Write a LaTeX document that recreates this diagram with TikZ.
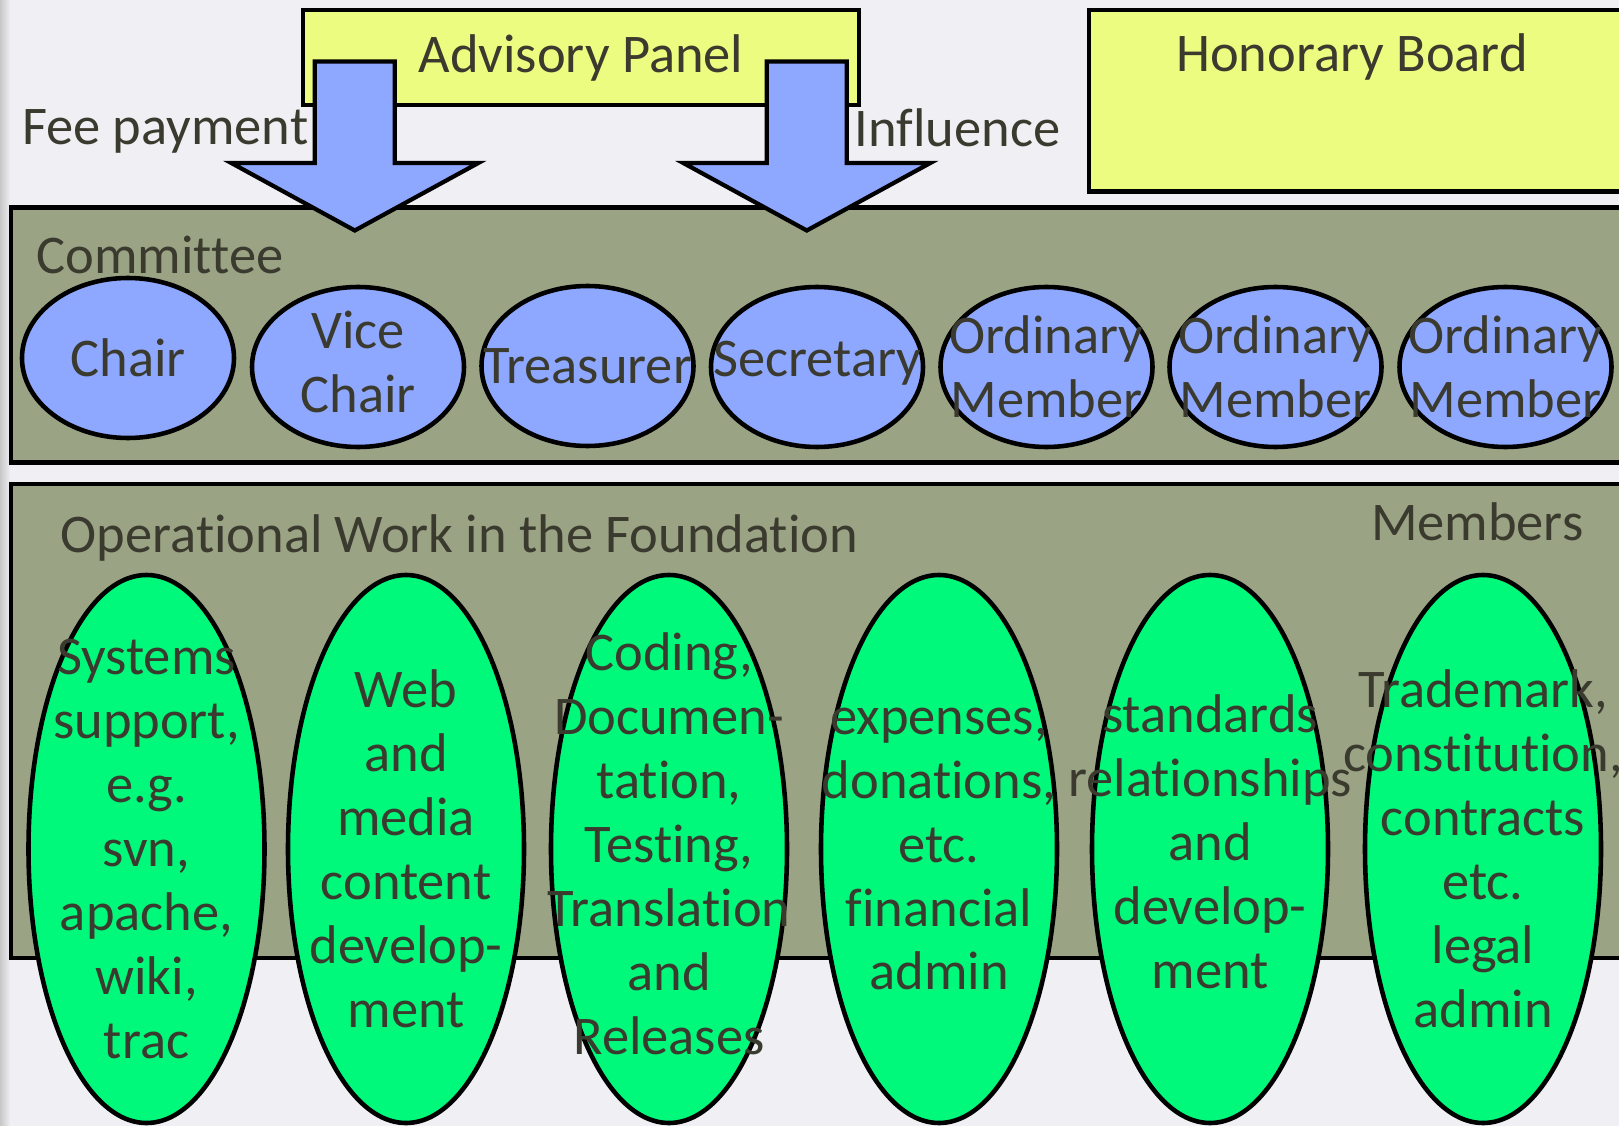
\documentclass[tikz,border=0pt]{standalone}
\usepackage{fontspec}
\setmainfont{Carlito}[RawFeature={-liga;-clig;-calt;-dlig}]
\usepackage{tikz}
\usetikzlibrary{shapes,arrows,positioning,calc}

\definecolor{paper}{HTML}{EFEFF4}
\definecolor{olive}{HTML}{9AA383}
\definecolor{lemon}{HTML}{ECFC80}
\definecolor{cornflower}{HTML}{8FA8FF}
\definecolor{mint}{HTML}{00F97B}
\definecolor{ink}{HTML}{3A3A2E}

\tikzset{
  boxtext/.style={text=ink, font=\fontsize{15.5}{18.2}\selectfont, inner sep=0pt, align=center},
  panel/.style={draw=black, line width=1.2pt, fill=olive, inner sep=0pt},
  yellowbox/.style={draw=black, line width=1.2pt, fill=lemon, inner sep=0pt},
  member/.style={ellipse, draw=black, line width=1.3pt, fill=cornflower, minimum width=2.12cm, minimum height=1.60cm, inner sep=0pt},
  workarea/.style={ellipse, draw=black, line width=1.3pt, fill=mint, minimum width=2.36cm, minimum height=5.48cm, inner sep=0pt},
  bigarrow/.style={draw=black, line width=1.2pt, fill=cornflower, line join=miter}
}

\begin{document}
\begin{tikzpicture}
    % Page
    \useasboundingbox (0,0) rectangle (16.19,-11.26);
    \clip (0,0) rectangle (16.19,-11.26);
    \fill[paper] (0,0) rectangle (16.19,-11.26);
    \shade[left color=black!22, right color=paper] (0,0) rectangle (0.10,-11.26);

    % Panels
    \node[panel, minimum width=16.24cm, minimum height=2.55cm] (committee) at (8.23,-3.35) {};
    \node[panel, minimum width=16.24cm, minimum height=4.74cm] (operations) at (8.23,-7.21) {};
    \node[boxtext, anchor=base west] (committeetxt) at (0.36,-2.73) {Committee};
    \node[boxtext, anchor=base west] (operationstxt) at (0.60,-5.52) {Operational Work in the Foundation};
    \node[boxtext, anchor=base east] (memberstxt) at (15.84,-5.40) {Members};

    % Top boxes
    \node[yellowbox, boxtext, minimum width=5.56cm, minimum height=0.95cm] (advisory) at (5.81,-0.575) {Advisory Panel};
    \node[yellowbox, minimum width=5.41cm, minimum height=1.815cm] (honorary) at (13.595,-1.0075) {};
    \node[boxtext, anchor=base] (honorarytxt) at (13.52,-0.72) {Honorary Board};

    % Arrows from the panel to the committee
    \coordinate (feetip) at (3.548,-2.305);
    \coordinate (influencetip) at (8.068,-2.305);
    \draw[bigarrow] (feetip) -- ++(1.235,0.675) -- ++(-0.835,0) -- ++(0,1.015) -- ++(-0.80,0) -- ++(0,-1.015) -- ++(-0.835,0) -- cycle;
    \draw[bigarrow] (influencetip) -- ++(1.235,0.675) -- ++(-0.835,0) -- ++(0,1.015) -- ++(-0.80,0) -- ++(0,-1.015) -- ++(-0.835,0) -- cycle;
    \node[boxtext, anchor=base east] (feetxt) at (3.09,-1.45) {Fee payment};
    \node[boxtext, anchor=base west] (influencetxt) at (8.54,-1.47) {Influence};

    % Committee members
    \node[member] (chair) at (1.28,-3.58) {};
    \node[member] (vicechair) at (3.58,-3.67) {};
    \node[member] (treasurer) at (5.875,-3.66) {};
    \node[member] (secretary) at (8.17,-3.67) {};
    \node[member] (ordinarya) at (10.465,-3.67) {};
    \node[member] (ordinaryb) at (12.755,-3.67) {};
    \node[member] (ordinaryc) at (15.055,-3.67) {};
    \node[boxtext] (chairtxt) at (chair) {Chair};
    \node[boxtext] (vicechairtxt) at ($(vicechair)+(0,0.05)$) {Vice\\Chair};
    \node[boxtext] (treasurertxt) at (treasurer) {Treasurer};
    \node[boxtext] (secretarytxt) at ($(secretary)+(0,0.04)$) {Secretary};
    \node[boxtext] (ordinaryatxt) at (ordinarya) {Ordinary\\Member};
    \node[boxtext] (ordinarybtxt) at (ordinaryb) {Ordinary\\Member};
    \node[boxtext] (ordinaryctxt) at (ordinaryc) {Ordinary\\Member};

    % Operational work
    \node[workarea] (systems) at (1.465,-8.49) {};
    \node[workarea] (web) at (4.06,-8.49) {};
    \node[workarea] (coding) at (6.69,-8.49) {};
    \node[workarea] (finance) at (9.39,-8.49) {};
    \node[workarea] (standards) at (12.10,-8.49) {};
    \node[workarea] (legal) at (14.83,-8.49) {};
    \node[boxtext] (systemstxt) at (systems) {Systems\\support,\\e.g.\\svn,\\apache,\\wiki,\\trac};
    \node[boxtext] (webtxt) at (web) {Web\\and\\media\\content\\develop-\\ment};
    \node[boxtext] (codingtxt) at ($(coding)+(0,0.05)$) {Coding,\\Documen-\\tation,\\Testing,\\Translation\\and\\Releases};
    \node[boxtext] (financetxt) at (finance) {expenses,\\donations,\\etc.\\financial\\admin};
    \node[boxtext] (standardstxt) at ($(standards)+(0,0.07)$) {standards\\relationships\\and\\develop-\\ment};
    \node[boxtext] (legaltxt) at (legal) {Trademark,\\constitution,\\contracts\\etc.\\legal\\admin};
\end{tikzpicture}
\end{document}
